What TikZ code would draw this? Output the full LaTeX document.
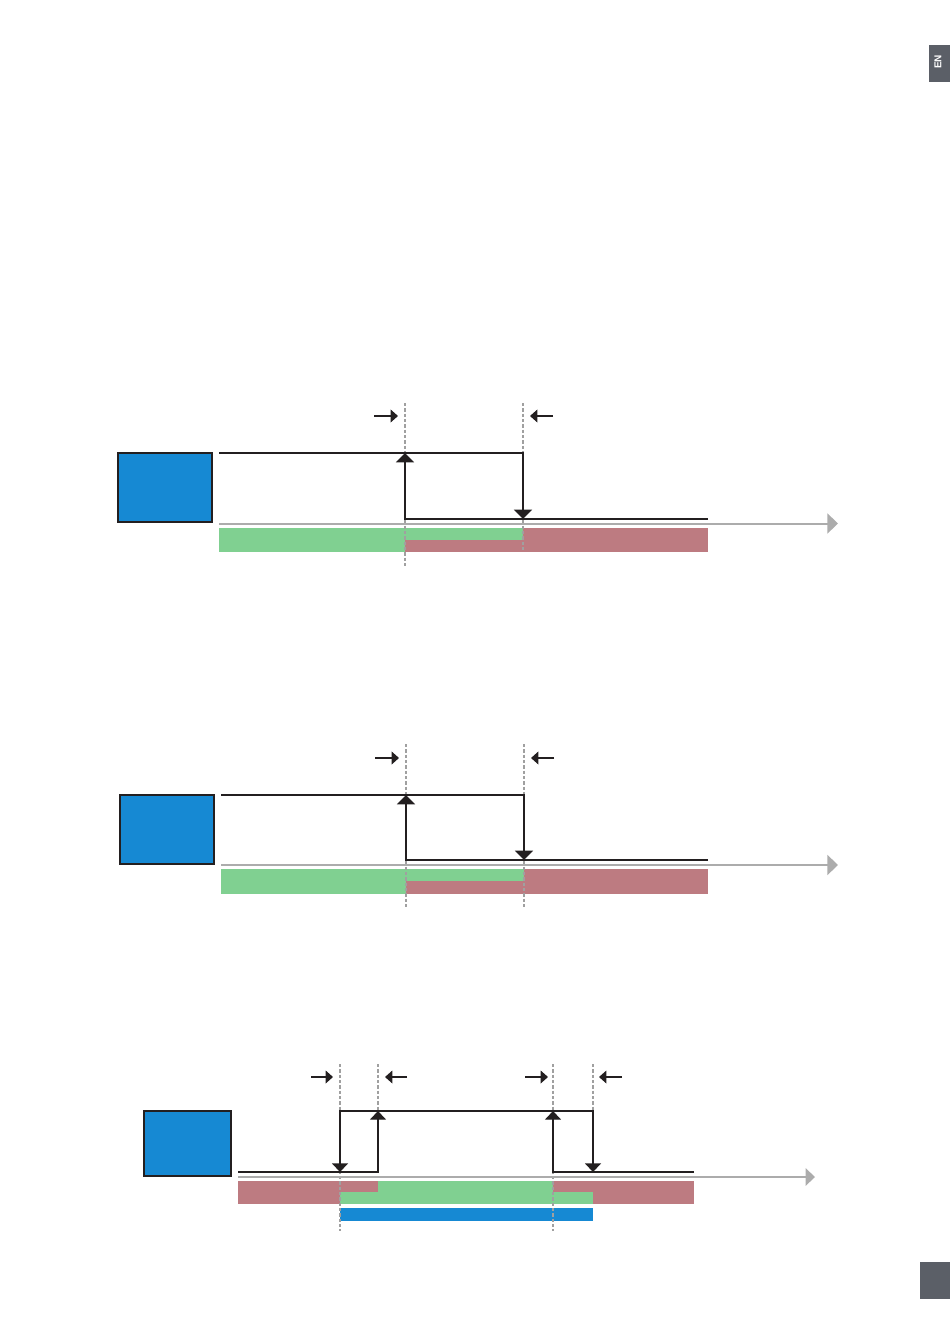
\documentclass[tikz,border=0pt]{standalone}
\usepackage{fontspec}
\setsansfont{Liberation Sans}
\usepackage{tikz}
\usetikzlibrary{arrows.meta}
\definecolor{boxblue}{RGB}{22,137,211}
\definecolor{okgreen}{RGB}{128,208,145}
\definecolor{offred}{RGB}{189,123,129}
\definecolor{axisgray}{RGB}{172,172,172}
\definecolor{guidegray}{RGB}{160,160,160}
\definecolor{tabgray}{RGB}{91,95,103}
\definecolor{ink}{RGB}{35,31,32}

\begin{document}
\begin{tikzpicture}[
    x=0.75pt, y=-0.75pt,
    unit/.style={draw=ink, line width=1.5pt, fill=boxblue},
    unitthin/.style={draw=ink, line width=0.9pt, fill=boxblue},
    sig/.style={draw=ink, line width=1.3pt, line join=miter},
    sigthin/.style={draw=ink, line width=1pt, line join=miter},
    tipup/.style={-{Triangle[length=7pt, width=13.5pt]}},
    tipsmall/.style={-{Triangle[length=6.5pt, width=12pt]}},
    axis/.style={draw=axisgray, line width=1.5pt, -{Triangle[length=8pt, width=15pt]}},
    axisthin/.style={draw=axisgray, line width=1.1pt, -{Triangle[length=7pt, width=13pt]}},
    guide/.style={draw=guidegray, line width=0.8pt, dash pattern=on 2.5pt off 1.5pt},
    cue/.style={draw=ink, line width=1.1pt, -{Triangle[length=5.5pt, width=9.5pt]}},
    barok/.style={fill=okgreen},
    baroff/.style={fill=offred},
    baron/.style={fill=boxblue},
    tab/.style={fill=tabgray}
]
\useasboundingbox (0,0) rectangle (950,1344);

% Page tabs
\fill[tab] (929,45) rectangle (950,82);
\node[rotate=90, text=white, font=\sffamily\bfseries\fontsize{7.5}{7.5}\selectfont] (lang) at (938,62) {EN};
\fill[tab] (920,1262) rectangle (950,1299);

% Diagram 1
\draw[unit] (118,453) rectangle (212,522);
\fill[barok] (219,528) rectangle (405,552);
\fill[barok] (405,528) rectangle (523,540);
\fill[baroff] (405,540) rectangle (523,552);
\fill[baroff] (523,528) rectangle (708,552);
\draw[guide] (405,403) -- (405,567);
\draw[guide] (523,403) -- (523,552);
\draw[axis] (219,523.5) -- (838,523.5);
\draw[sig, tipup] (219,453) -- (523,453) -- (523,519);
\draw[sig, tipup] (708,519) -- (405,519) -- (405,453);
\draw[cue] (374,416) -- (398,416);
\draw[cue] (553,416) -- (530,416);

% Diagram 2
\draw[unit] (120,795) rectangle (214,864);
\fill[barok] (221,869) rectangle (406,894);
\fill[barok] (406,869) rectangle (524,881);
\fill[baroff] (406,881) rectangle (524,894);
\fill[baroff] (524,869) rectangle (708,894);
\draw[guide] (406,744) -- (406,908);
\draw[guide] (524,744) -- (524,908);
\draw[axis] (221,865) -- (838,865);
\draw[sig, tipup] (221,795) -- (524,795) -- (524,860);
\draw[sig, tipup] (708,860) -- (406,860) -- (406,795);
\draw[cue] (375,758) -- (399,758);
\draw[cue] (554,758) -- (531,758);

% Diagram 3
\draw[unitthin] (144,1111) rectangle (231,1176);
\fill[baroff] (238,1181) rectangle (340,1204);
\fill[baroff] (340,1181) rectangle (378,1192);
\fill[barok] (340,1192) rectangle (378,1204);
\fill[barok] (378,1181) rectangle (553,1204);
\fill[baroff] (553,1181) rectangle (694,1204);
\fill[barok] (553,1192) rectangle (593,1204);
\fill[baron] (340,1208) rectangle (593,1221);
\draw[guide] (340,1064) -- (340,1231);
\draw[guide] (378,1064) -- (378,1111);
\draw[guide] (553,1064) -- (553,1231);
\draw[guide] (593,1064) -- (593,1111);
\draw[axisthin] (238,1177) -- (815,1177);
\draw[sigthin, {Triangle[length=6.5pt, width=12pt]}-{Triangle[length=6.5pt, width=12pt]}] (340,1172) -- (340,1111) -- (593,1111) -- (593,1172);
\draw[sigthin, tipsmall] (238,1172) -- (378,1172) -- (378,1111);
\draw[sigthin, tipsmall] (694,1172) -- (553,1172) -- (553,1111);
\draw[cue] (311,1077) -- (333,1077);
\draw[cue] (407,1077) -- (385,1077);
\draw[cue] (525,1077) -- (548,1077);
\draw[cue] (622,1077) -- (599,1077);

\end{tikzpicture}
\end{document}
